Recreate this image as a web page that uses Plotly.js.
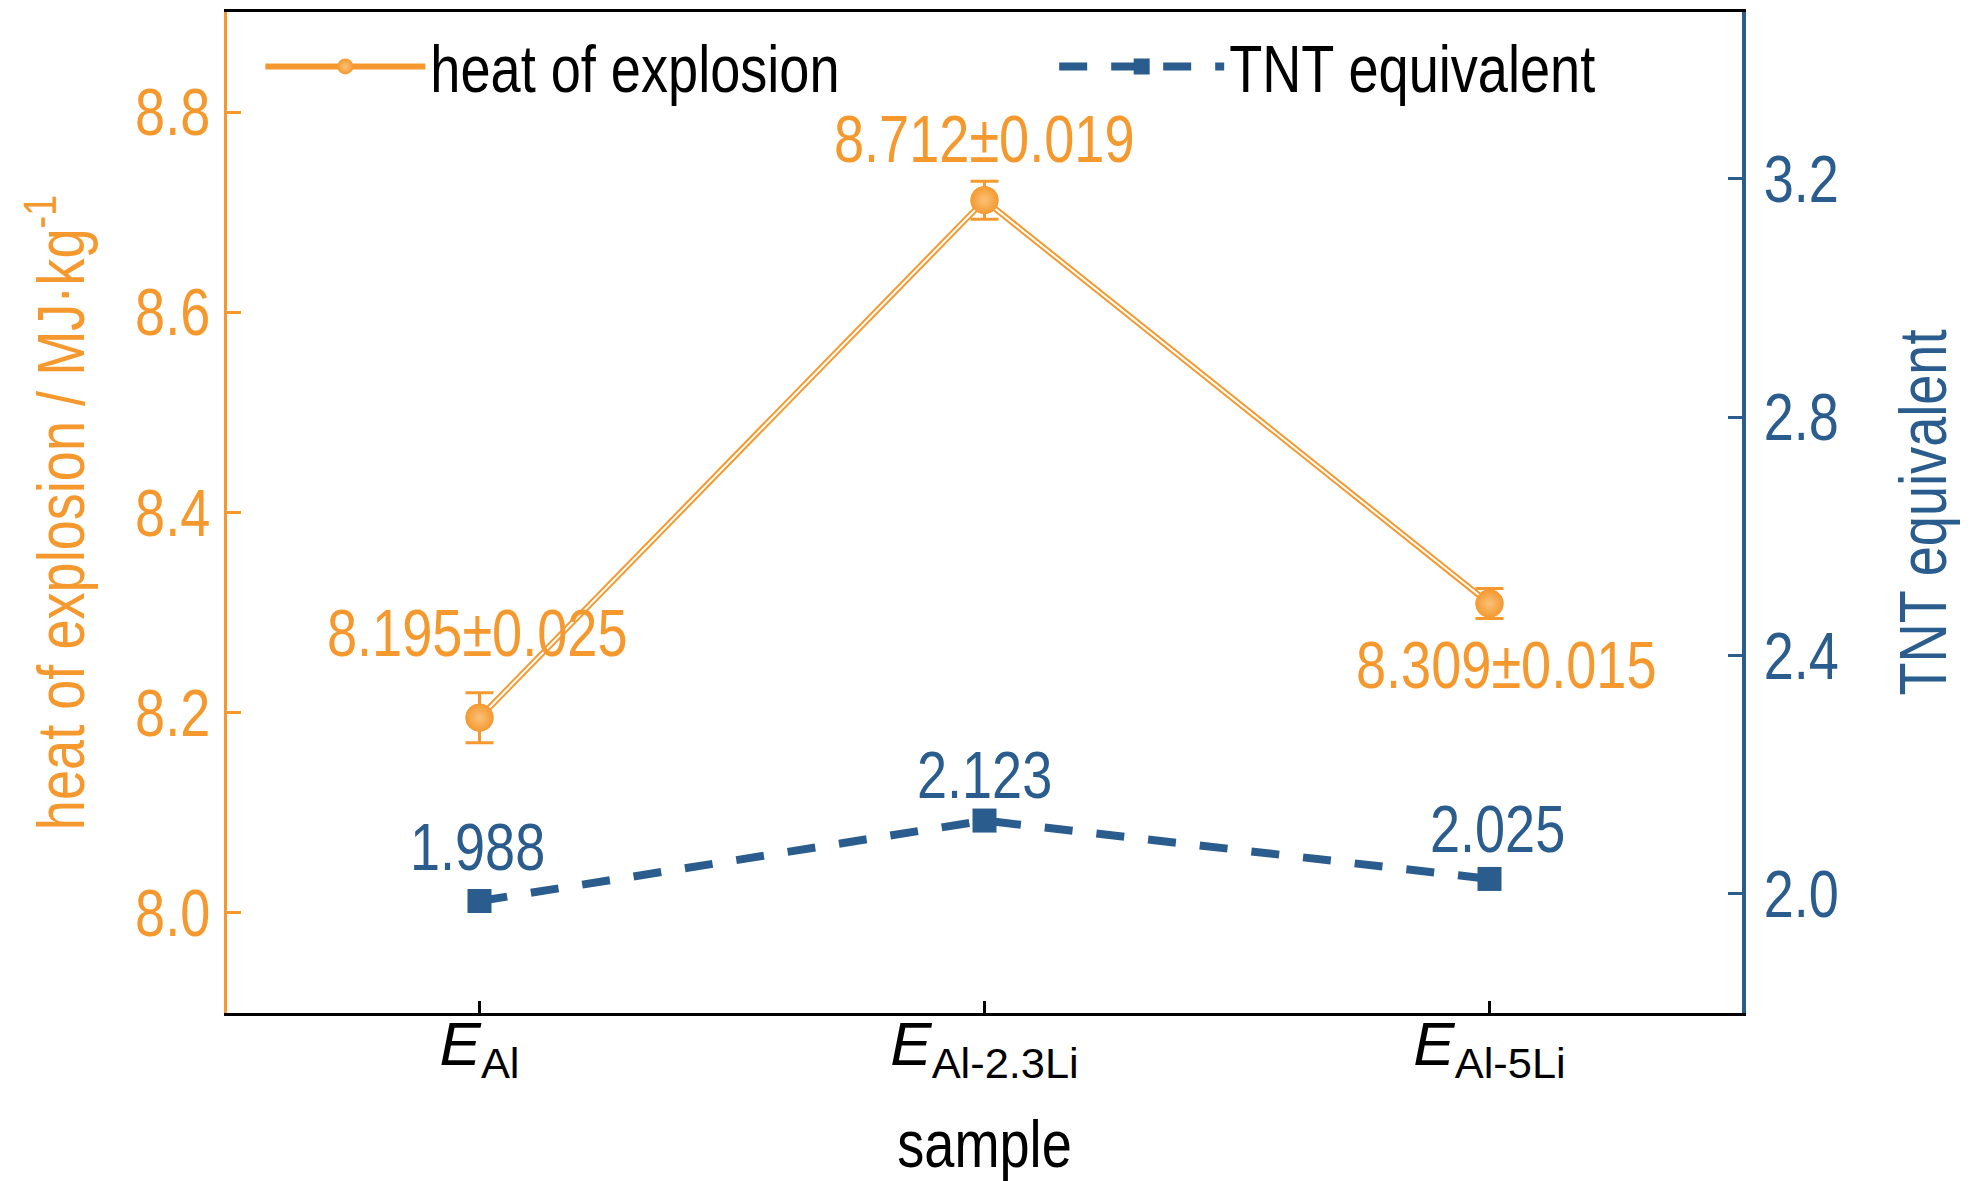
<!DOCTYPE html>
<html>
<head>
<meta charset="utf-8">
<script src="https://cdn.plot.ly/plotly-3.0.1.min.js"></script>
<style>
  html, body { margin: 0; padding: 0; background: #fff; }
  #plot { width: 1984px; height: 1181px; }
</style>
</head>
<body>
<div id="plot"></div>
<script>
// samples on the x axis
const samples = ["E_Al", "E_Al-2.3Li", "E_Al-5Li"];
const sampleTicks = ["<i>E</i><sub>Al</sub>", "<i>E</i><sub>Al-2.3Li</sub>", "<i>E</i><sub>Al-5Li</sub>"];

// heat of explosion, MJ/kg, with spread
const heat = [8.195, 8.712, 8.309];
const heatErr = [0.025, 0.019, 0.015];

// TNT equivalent
const tnt = [1.988, 2.123, 2.025];

const ORANGE = "#F5992F";
const BLUE = "#2B5C8E";
const FONT = '"Liberation Sans", Arial, sans-serif';
const NARROW = 0.82; // the original uses a condensed face

const heatTrace = {
  x: samples, y: heat, name: "heat of explosion", legend: "legend",
  mode: "lines+markers", type: "scatter",
  line: { color: ORANGE, width: 6 },
  marker: { symbol: "circle", size: 28, color: ORANGE,
            gradient: { type: "radial", color: "#FAC27A" } },
  error_y: { type: "data", array: heatErr, visible: true,
             color: ORANGE, thickness: 3, width: 14 }
};
// white core to get the hollow tube look of the line
const heatCore = {
  x: samples, y: heat, mode: "lines", type: "scatter",
  line: { color: "#ffffff", width: 2 },
  showlegend: false, hoverinfo: "skip"
};
// markers again on top of the core line
const heatDots = {
  x: samples, y: heat, mode: "markers", type: "scatter",
  marker: { symbol: "circle", size: 28, color: ORANGE,
            gradient: { type: "radial", color: "#FAC27A" } },
  showlegend: false, hoverinfo: "skip"
};
const tntTrace = {
  x: samples, y: tnt, name: "TNT equivalent", yaxis: "y2", legend: "legend2",
  mode: "lines+markers", type: "scatter",
  line: { color: BLUE, width: 8, dash: "28px,24px" },
  marker: { symbol: "square", size: 24, color: BLUE }
};

const heatShift = [[-2, 85], [0, 61], [17, -61]];
const tntShift = [[-2, 54], [0, 46], [8, 50]];

const annotations = [];
heat.forEach((h, i) => {
  annotations.push({
    x: samples[i], y: h, xref: "x", yref: "y",
    text: h.toFixed(3) + "±" + heatErr[i].toFixed(3),
    showarrow: false, xanchor: "center", yanchor: "middle",
    xshift: heatShift[i][0], yshift: heatShift[i][1],
    font: { family: FONT, size: 66, color: ORANGE }
  });
});
tnt.forEach((t, i) => {
  annotations.push({
    x: samples[i], y: t, xref: "x", yref: "y2",
    text: t.toFixed(3),
    showarrow: false, xanchor: "center", yanchor: "middle",
    xshift: tntShift[i][0], yshift: tntShift[i][1],
    font: { family: FONT, size: 66, color: BLUE }
  });
});

const legendBase = {
  y: 0.995, xanchor: "left", yanchor: "top",
  bgcolor: "rgba(0,0,0,0)", font: { family: FONT, size: 66, color: "#000" }
};

const layout = {
  width: 1984, height: 1181,
  margin: { l: 227, r: 242, t: 12, b: 168 },
  paper_bgcolor: "#fff", plot_bgcolor: "#fff",
  font: { family: FONT, size: 66, color: "#000" },
  showlegend: true,
  legend: Object.assign({ x: 0.022, itemwidth: 160 }, legendBase),
  legend2: Object.assign({ x: 0.546, itemwidth: 165 }, legendBase),
  xaxis: {
    type: "category", range: [-0.5, 2.5],
    tickvals: samples, ticktext: sampleTicks,
    showline: true, linecolor: "#000", linewidth: 3, mirror: true,
    ticks: "inside", ticklen: 12, tickwidth: 2.5, tickcolor: "#000",
    showgrid: false, zeroline: false,
    ticklabelstandoff: -25,
    tickfont: { family: FONT, size: 62, color: "#000" },
    title: { text: "sample", font: { family: FONT, size: 66, color: "#000" }, standoff: 35 }
  },
  yaxis: {
    range: [7.9, 8.9], tick0: 8.0, dtick: 0.2, tickformat: ".1f",
    showline: true, linecolor: ORANGE, linewidth: 3.5,
    ticks: "inside", ticklen: 14, tickwidth: 3, tickcolor: ORANGE,
    showgrid: false, zeroline: false,
    tickfont: { family: FONT, size: 66, color: ORANGE },
    ticklabelstandoff: 0,
    title: { text: "heat of explosion / MJ·kg<sup>-1</sup>",
             font: { family: FONT, size: 66, color: ORANGE }, standoff: 13 }
  },
  yaxis2: {
    overlaying: "y", side: "right",
    range: [1.8, 3.48], tick0: 2.0, dtick: 0.4, tickformat: ".1f",
    showline: true, linecolor: BLUE, linewidth: 3.5,
    ticks: "inside", ticklen: 14, tickwidth: 3, tickcolor: BLUE,
    showgrid: false, zeroline: false,
    tickfont: { family: FONT, size: 66, color: BLUE },
    ticklabelstandoff: 5,
    title: { text: "TNT equivalent", font: { family: FONT, size: 66, color: BLUE }, standoff: 46 }
  },
  annotations: annotations
};

Plotly.newPlot("plot", [heatTrace, heatCore, heatDots, tntTrace], layout, { displayModeBar: false, staticPlot: true })
  .then(gd => {
    // squeeze texts along their own direction to mimic the condensed face
    // (x tick labels are left alone, their subscripts would collide)
    gd.querySelectorAll("text").forEach(t => {
      if (t.closest(".xtick")) return;
      const w = t.getComputedTextLength();
      if (w > 0) {
        t.setAttribute("textLength", (w * NARROW).toFixed(1));
        t.setAttribute("lengthAdjust", "spacingAndGlyphs");
      }
    });
  });
</script>
</body>
</html>
